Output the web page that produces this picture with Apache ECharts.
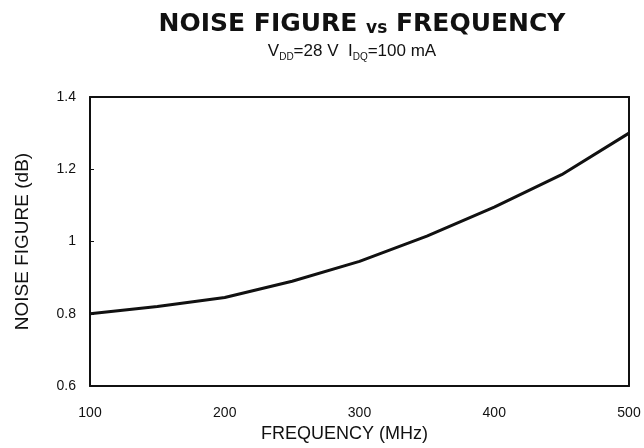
<!DOCTYPE html>
<html><head><meta charset="utf-8">
<script src="https://cdn.jsdelivr.net/npm/echarts@6/dist/echarts.min.js"></script>
<style>html,body{margin:0;padding:0;background:#fff}#c{width:644px;height:448px}</style>
</head><body><div id="c"></div>
<script>
var frequency = [100, 150, 200, 250, 300, 350, 400, 450, 500];
var noiseFigure = [0.80, 0.82, 0.845, 0.89, 0.945, 1.015, 1.095, 1.185, 1.30];
var xTicks = [100, 200, 300, 400, 500];
var yTicks = [0.6, 0.8, 1, 1.2, 1.4];

var chart = echarts.init(document.getElementById('c'));
var F = '"Liberation Sans", Arial, sans-serif';
var FT = '"DejaVu Sans", sans-serif';
var ink = '#111';
function frameAxis(pos, min, max) {
  return { type: 'value', position: pos, min: min, max: max,
    axisLine: { show: true, onZero: false, lineStyle: { color: ink, width: 2 } },
    axisTick: { show: false }, axisLabel: { show: false }, splitLine: { show: false } };
}
chart.setOption({
  backgroundColor: '#fff',
  animation: false,
  title: [{
    left: 357, textAlign: 'center', top: 7,
    text: '{b|NOISE FIGURE }{s|vs}{b| FREQUENCY}',
    textStyle: { rich: {
      b: { fontFamily: FT, fontWeight: 'bold', fontSize: 25, color: ink },
      s: { fontFamily: FT, fontWeight: 'bold', fontSize: 17, color: ink, verticalAlign: 'bottom' }
    }}
  }, {
    left: 347, textAlign: 'center', top: 38,
    text: '{n|V}{d|DD}{n|=28 V  I}{d|DQ}{n|=100 mA}',
    textStyle: { fontWeight: 'normal', rich: {
      n: { fontFamily: F, fontWeight: 'normal', fontSize: 17, color: ink, verticalAlign: 'top' },
      d: { fontFamily: F, fontWeight: 'normal', fontSize: 10, color: ink, verticalAlign: 'top', padding: [9, 0, 0, 0] }
    }}
  }],
  grid: { left: 90, right: 15, top: 97, bottom: 40, containLabel: false },
  xAxis: [{
    type: 'value', min: 100, max: 500, interval: 100,
    name: 'FREQUENCY (MHz)', nameLocation: 'middle', nameGap: 18,
    nameTextStyle: { fontFamily: F, fontSize: 18, color: ink, padding: [0, 30, 0, 0] },
    axisLine: { show: true, onZero: false, lineStyle: { color: ink, width: 2 } },
    axisTick: { show: false },
    splitLine: { show: false },
    axisLabel: { fontFamily: F, fontSize: 14, color: ink, margin: 20,
      formatter: function (v) { return xTicks.indexOf(v) >= 0 ? String(v) : ''; } }
  }, frameAxis('top', 100, 500)],
  yAxis: [{
    type: 'value', min: 0.6, max: 1.4, interval: 0.2,
    name: 'NOISE FIGURE (dB)', nameLocation: 'middle', nameGap: 58,
    nameTextStyle: { fontFamily: F, fontSize: 19, color: ink },
    axisLine: { show: true, onZero: false, lineStyle: { color: ink, width: 2 } },
    axisTick: { show: true, inside: true, length: 4, lineStyle: { color: ink } },
    splitLine: { show: false },
    axisLabel: { fontFamily: F, fontSize: 14, color: ink, margin: 14,
      formatter: function (v) {
        var r = Math.round(v * 10) / 10;
        return yTicks.indexOf(r) >= 0 ? String(r) : '';
      } }
  }, frameAxis('right', 0.6, 1.4)],
  series: [{
    type: 'line', xAxisIndex: 0, yAxisIndex: 0,
    data: frequency.map(function (f, i) { return [f, noiseFigure[i]]; }),
    showSymbol: false, smooth: false,
    lineStyle: { color: ink, width: 3 }
  }]
});
</script></body></html>
